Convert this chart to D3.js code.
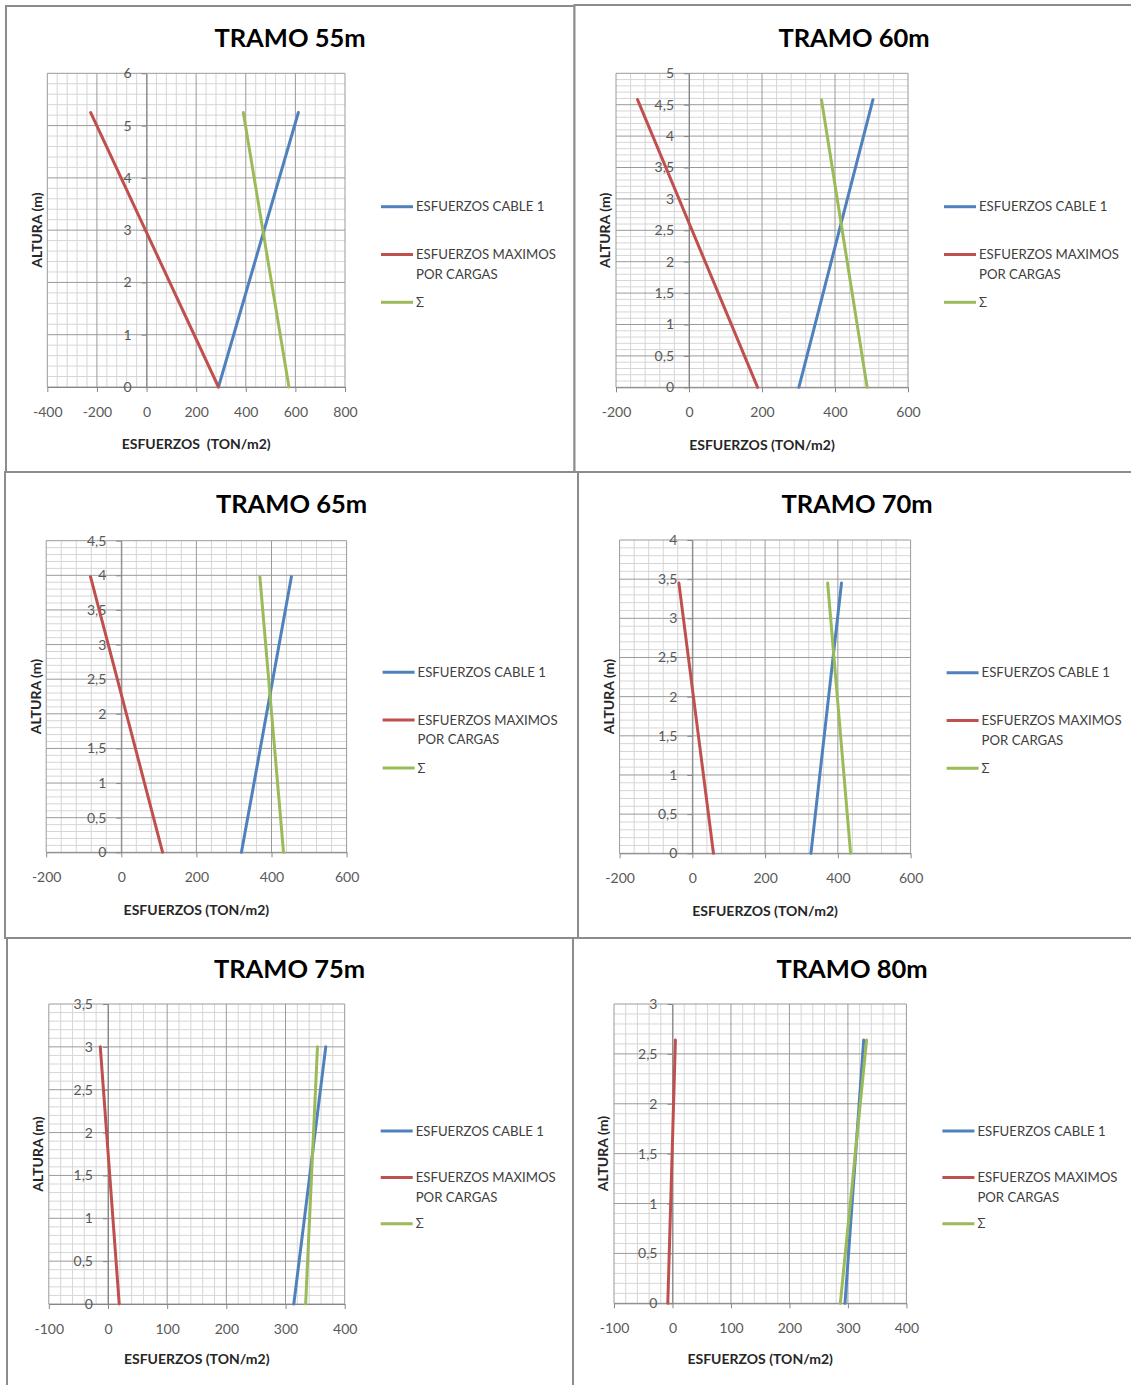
<!DOCTYPE html>
<html><head><meta charset="utf-8">
<script src="https://cdn.jsdelivr.net/npm/d3@7"></script>
<style>
body{margin:0;background:#fff}
svg{display:block}
text{font-family:Lato,'Open Sans',sans-serif}
</style>
</head><body>
<svg id="c" width="1131" height="1385"></svg>
<script>
// ---------- DATA ----------
const titles = ["TRAMO 55m", "TRAMO 60m", "TRAMO 65m", "TRAMO 70m", "TRAMO 75m", "TRAMO 80m"];
const seriesNames = ["ESFUERZOS CABLE 1", "ESFUERZOS MAXIMOS POR CARGAS", "Σ"];
const xAxisTitles = ["ESFUERZOS  (TON/m2)", "ESFUERZOS (TON/m2)", "ESFUERZOS (TON/m2)", "ESFUERZOS (TON/m2)", "ESFUERZOS (TON/m2)", "ESFUERZOS (TON/m2)"];
const yAxisTitle = "ALTURA (m)";
const xMin = [-400, -200, -200, -200, -100, -100];
const xMax = [800, 600, 600, 600, 400, 400];
const xTickStep = [200, 200, 200, 200, 100, 100];
const yMax = [6, 5, 4.5, 4, 3.5, 3];
const yTickStep = [1, 0.5, 0.5, 0.5, 0.5, 0.5];
// altura (m) of the two points of each series: 0 and the top value
const alturaTop = [5.25, 4.58, 3.98, 3.45, 3.0, 2.64];
// esfuerzos (TON/m2) at altura 0 and at the top
const cable1Base = [290, 301, 320, 326, 314, 295];
const cable1Top = [612, 504, 453, 410, 368, 327];
const cargasBase = [290, 188, 110, 58, 19, -8];
const cargasTop = [-225, -141, -82, -37, -13, 5];
const sigmaBase = [574, 488, 432, 435, 334, 287];
const sigmaTop = [390, 363, 369, 372, 354, 332];

// ---------- LAYOUT ----------
const colors = ["#4F81BD", "#C0504D", "#9BBB59"];
const frames = [
  {x: 6, y: 6, w: 568.5, h: 466},
  {x: 574.5, y: 5, w: 580, h: 467},
  {x: 5, y: 472, w: 573, h: 466},
  {x: 578, y: 472, w: 580, h: 466},
  {x: 7, y: 938, w: 566, h: 470},
  {x: 573, y: 938, w: 580, h: 470}
];
const plots = [
  {l: 47.3, t: 73.3, r: 345, b: 387},
  {l: 616, t: 73.3, r: 908, b: 387.3},
  {l: 46.2, t: 540.7, r: 346.6, b: 852.3},
  {l: 619.6, t: 540, r: 910.6, b: 853.3},
  {l: 48.8, t: 1004, r: 344.7, b: 1304},
  {l: 614, t: 1004, r: 906.4, b: 1303.3}
];
const titleCx = [290, 854, 291.5, 857, 289.5, 852];
const titleBase = [47, 47, 513, 513, 978, 978];
const legendY = [206.7, 206.7, 672.3, 672.7, 1131, 1131];
const legendGap = [47.8, 47.8, 47.8, 47.8, 46.4, 46.4];
const xTitleY = [444, 445, 910, 910.7, 1359, 1359];

const svg = d3.select("#c");
svg.append("rect").attr("width", 1131).attr("height", 1385).attr("fill", "#fff");

const fmtY = v => String(+v.toFixed(2)).replace(".", ",");
const fmtX = v => String(Math.round(v));

titles.forEach((title, i) => {
  const f = frames[i], p = plots[i];
  const g = svg.append("g");
  g.append("rect").attr("x", f.x).attr("y", f.y).attr("width", f.w).attr("height", f.h)
    .attr("fill", "#fff").attr("stroke", "#8c8c8c").attr("stroke-width", 2);

  const x = d3.scaleLinear().domain([xMin[i], xMax[i]]).range([p.l, p.r]);
  const y = d3.scaleLinear().domain([0, yMax[i]]).range([p.b, p.t]);

  // grid
  const xs = xTickStep[i], ys = yTickStep[i];
  const xMinor = d3.range(0, Math.round((xMax[i] - xMin[i]) / (xs / 5)) + 1).map(k => xMin[i] + k * xs / 5);
  const yMinor = d3.range(0, Math.round(yMax[i] / (ys / 5)) + 1).map(k => k * ys / 5);
  const isMajor = (v, s) => Math.abs(v / s - Math.round(v / s)) < 1e-6;
  const grid = g.append("g");
  grid.selectAll("line.vm").data(xMinor.filter(v => !isMajor(v, xs))).join("line")
    .attr("x1", d => x(d)).attr("x2", d => x(d)).attr("y1", p.t).attr("y2", p.b)
    .attr("stroke", "#d6d6d6").attr("stroke-width", 1);
  grid.selectAll("line.hm").data(yMinor.filter(v => !isMajor(v, ys))).join("line")
    .attr("y1", d => y(d)).attr("y2", d => y(d)).attr("x1", p.l).attr("x2", p.r)
    .attr("stroke", "#d6d6d6").attr("stroke-width", 1);
  grid.selectAll("line.vM").data(xMinor.filter(v => isMajor(v, xs))).join("line")
    .attr("x1", d => x(d)).attr("x2", d => x(d)).attr("y1", p.t).attr("y2", p.b)
    .attr("stroke", "#9a9a9a").attr("stroke-width", 1);
  grid.selectAll("line.hM").data(yMinor.filter(v => isMajor(v, ys))).join("line")
    .attr("y1", d => y(d)).attr("y2", d => y(d)).attr("x1", p.l).attr("x2", p.r)
    .attr("stroke", "#9a9a9a").attr("stroke-width", 1);

  // x axis
  const xTicks = d3.range(xMin[i], xMax[i] + 1e-9, xs);
  const xa = g.append("g").attr("transform", `translate(0,${y(0)})`)
    .call(d3.axisBottom(x).tickValues(xTicks).tickSize(5).tickSizeOuter(0).tickPadding(15).tickFormat(fmtX));
  xa.select(".domain").attr("stroke", "#868686");
  xa.selectAll(".tick line").attr("stroke", "#868686");
  xa.selectAll("text").attr("fill", "#595959").attr("font-size", 14).attr("font-family", "Lato,'Open Sans',sans-serif");

  // y axis at x = 0
  const yTicks = d3.range(0, yMax[i] + 1e-9, ys);
  const ya = g.append("g").attr("transform", `translate(${x(0)},0)`)
    .call(d3.axisLeft(y).tickValues(yTicks).tickSize(5).tickSizeOuter(0).tickPadding(10).tickFormat(fmtY));
  ya.select(".domain").attr("stroke", "#868686");
  ya.selectAll(".tick line").attr("stroke", "#868686");
  ya.selectAll("text").attr("fill", "#595959").attr("font-size", 14).attr("font-family", "Lato,'Open Sans',sans-serif");

  // series
  const series = [
    [[cable1Base[i], 0], [cable1Top[i], alturaTop[i]]],
    [[cargasBase[i], 0], [cargasTop[i], alturaTop[i]]],
    [[sigmaBase[i], 0], [sigmaTop[i], alturaTop[i]]]
  ];
  const line = d3.line().x(d => x(d[0])).y(d => y(d[1]));
  series.forEach((s, k) => {
    g.append("path").attr("d", line(s)).attr("fill", "none")
      .attr("stroke", colors[k]).attr("stroke-width", 3).attr("stroke-linecap", "round");
  });

  // title
  g.append("text").attr("x", titleCx[i]).attr("y", titleBase[i]).attr("text-anchor", "middle")
    .attr("font-size", 25.5).attr("font-weight", "bold").attr("fill", "#000").text(title);

  // axis titles
  g.append("text").attr("x", (p.l + p.r) / 2).attr("y", xTitleY[i]).attr("dy", "0.35em")
    .attr("text-anchor", "middle").attr("font-size", 14).attr("font-weight", "bold")
    .attr("fill", "#262626").style("white-space", "pre").attr("xml:space", "preserve").text(xAxisTitles[i]);
  g.append("text").attr("transform", `translate(${p.l - 10.5},${(p.t + p.b) / 2}) rotate(-90)`)
    .attr("dy", "0.35em").attr("text-anchor", "middle").attr("font-size", 14).attr("font-weight", "bold")
    .attr("fill", "#262626").text(yAxisTitle);

  // legend
  const lx = p.r + 36;
  const lg = g.append("g");
  seriesNames.forEach((name, k) => {
    const ly = legendY[i] + k * legendGap[i];
    lg.append("line").attr("x1", lx).attr("x2", lx + 32).attr("y1", ly).attr("y2", ly)
      .attr("stroke", colors[k]).attr("stroke-width", 3);
    const words = k === 1 ? ["ESFUERZOS MAXIMOS", "POR CARGAS"] : [name];
    const t = lg.append("text").attr("x", lx + 35).attr("y", ly)
      .attr("font-size", 13.2).attr("fill", "#404040");
    words.forEach((w, j) => {
      t.append("tspan").attr("x", lx + 35).attr("dy", j === 0 ? "0.35em" : "19.5").text(w);
    });
  });
});
</script>
</body></html>
